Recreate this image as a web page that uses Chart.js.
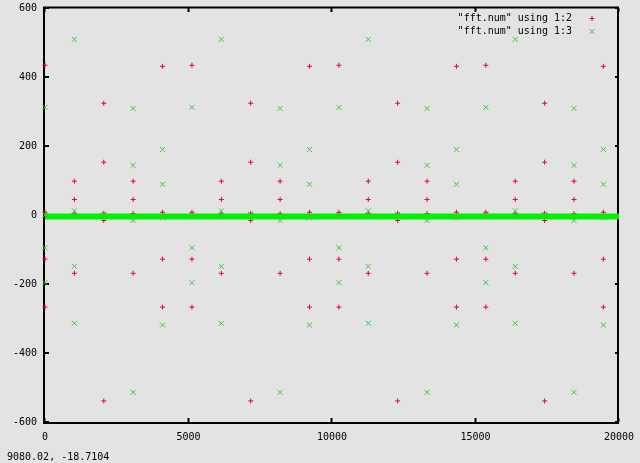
<!DOCTYPE html>
<html>
<head>
<meta charset="utf-8">
<script src="https://cdn.jsdelivr.net/npm/chart.js@4/dist/chart.umd.min.js"></script>
<style>
  html, body { margin: 0; padding: 0; background: #e3e3e3; overflow: hidden; }
  canvas { display: block; }
</style>
</head>
<body>
<canvas id="c" width="640" height="463"></canvas>
<script>
// ---- data ----
const seriesLabels = ['"fft.num" using 1:2', '"fft.num" using 1:3'];
const statusText = '9080.02, -18.7104';
const xTickStep = 5000;
const yTickStep = 200;

// column 2 (red +)
const redX = [
  0,0,0,0, 1024,1024,1024,1024, 2048,2048,2048,2048,2048, 3072,3072,3072,3072, 4096,4096,4096,4096,
  5120,5120,5120,5120, 6144,6144,6144,6144, 7168,7168,7168,7168,7168, 8192,8192,8192,8192, 9216,9216,9216,9216,
  10240,10240,10240,10240, 11264,11264,11264,11264, 12288,12288,12288,12288,12288, 13312,13312,13312,13312, 14336,14336,14336,14336,
  15360,15360,15360,15360, 16384,16384,16384,16384, 17408,17408,17408,17408,17408, 18432,18432,18432,18432, 19456,19456,19456,19456
];
const redY = [
  434,8,-128,-267, 98,45,4,-169, 324,153,5,-16,-539, 98,45,4,-169, 431,8,-128,-267,
  434,8,-128,-267, 98,45,4,-169, 324,153,5,-16,-539, 98,45,4,-169, 431,8,-128,-267,
  434,8,-128,-267, 98,45,4,-169, 324,153,5,-16,-539, 98,45,4,-169, 431,8,-128,-267,
  434,8,-128,-267, 98,45,4,-169, 324,153,5,-16,-539, 98,45,4,-169, 431,8,-128,-267
];

// column 3 (green x)
const greenX = [
  0,0,0,0, 1024,1024,1024,1024,1024, 2048, 3072,3072,3072,3072, 4096,4096,4096,4096,
  5120,5120,5120,5120, 6144,6144,6144,6144,6144, 7168, 8192,8192,8192,8192, 9216,9216,9216,9216,
  10240,10240,10240,10240, 11264,11264,11264,11264,11264, 12288, 13312,13312,13312,13312, 14336,14336,14336,14336,
  15360,15360,15360,15360, 16384,16384,16384,16384,16384, 17408, 18432,18432,18432,18432, 19456,19456,19456,19456
];
const greenY = [
  312,0,-95,-196, 509,12,-2,-149,-314, 2, 309,144,-16,-514, 190,89,-8,-319,
  312,0,-95,-196, 509,12,-2,-149,-314, 2, 309,144,-16,-514, 190,89,-8,-319,
  312,0,-95,-196, 509,12,-2,-149,-314, 2, 309,144,-16,-514, 190,89,-8,-319,
  312,0,-95,-196, 509,12,-2,-149,-314, 2, 309,144,-16,-514, 190,89,-8,-319
];

// dense near-zero floor of column 3 (drawn as a thick band)
const bandX = [0, 20000];
const bandY = [-4, -4];

// ---- styling ----
const RED = '#d80c2c';
const GREEN = '#3cc83c';
const BAND = '#00f000';
const BG = '#e3e3e3';
const FONT = { family: '"DejaVu Sans Mono", monospace', size: 10 };

const toPts = (xs, ys) => xs.map((x, i) => ({ x: x, y: ys[i] }));

const framePlugin = {
  id: 'frame',
  beforeDraw(chart) {
    const ctx = chart.ctx;
    ctx.save();
    ctx.fillStyle = BG;
    ctx.fillRect(0, 0, chart.width, chart.height);
    ctx.restore();
  },
  beforeDatasetsDraw(chart) {
    const ctx = chart.ctx;
    const a = chart.chartArea;
    const xs = chart.scales.x, ys = chart.scales.y;
    ctx.save();
    ctx.strokeStyle = '#000';
    ctx.lineWidth = 2;
    ctx.strokeRect(a.left - 1, a.top - 0.5, a.right - a.left, a.bottom - a.top + 1.5);
    const tl = 4;
    ctx.beginPath();
    xs.ticks.forEach(t => {
      const px = Math.round(xs.getPixelForValue(t.value)) - 0.5;
      ctx.moveTo(px, a.bottom); ctx.lineTo(px, a.bottom - tl);
      ctx.moveTo(px, a.top); ctx.lineTo(px, a.top + tl);
    });
    ys.ticks.forEach(t => {
      const py = Math.round(ys.getPixelForValue(t.value));
      ctx.moveTo(a.left, py); ctx.lineTo(a.left + tl, py);
      ctx.moveTo(a.right, py); ctx.lineTo(a.right - tl, py);
    });
    ctx.stroke();
    ctx.restore();
  },
  afterDraw(chart) {
    const ctx = chart.ctx;
    ctx.save();
    ctx.font = FONT.size + 'px ' + FONT.family;
    ctx.fillStyle = '#000';
    ctx.textBaseline = 'middle';
    // legend (gnuplot style, top right)
    const entries = [
      { ds: chart.data.datasets[2], y: 18.5 },
      { ds: chart.data.datasets[0], y: 31.5 }
    ];
    entries.forEach(e => {
      ctx.textAlign = 'right';
      ctx.fillStyle = '#000';
      ctx.fillText(e.ds.label, 572, e.y);
      ctx.strokeStyle = e.ds.borderColor;
      ctx.lineWidth = e.ds.borderWidth;
      Chart.helpers.drawPoint(ctx, {
        pointStyle: e.ds.pointStyle,
        radius: e.ds.pointRadius,
        borderWidth: e.ds.borderWidth,
        rotation: 0
      }, 592, e.y);
    });
    // status line
    ctx.textAlign = 'left';
    ctx.fillStyle = '#000';
    ctx.fillText(statusText, 7, 457);
    ctx.restore();
  }
};

const hiddenTickGrid = (len) => ({
  display: true, drawOnChartArea: false, drawTicks: true,
  tickLength: len, color: 'rgba(0,0,0,0)'
});

new Chart(document.getElementById('c'), {
  type: 'scatter',
  data: {
    datasets: [
      {
        label: seriesLabels[1],
        data: toPts(greenX, greenY),
        pointStyle: 'crossRot',
        pointRadius: 3.5,
        borderWidth: 1,
        borderColor: GREEN,
        backgroundColor: GREEN,
        clip: false,
        order: 1
      },
      {
        label: 'floor',
        type: 'line',
        data: toPts(bandX, bandY),
        borderColor: BAND,
        borderWidth: 6,
        pointRadius: 0,
        fill: false,
        order: 2
      },
      {
        label: seriesLabels[0],
        data: toPts(redX, redY),
        pointStyle: 'cross',
        pointRadius: 2.5,
        borderWidth: 1,
        borderColor: RED,
        backgroundColor: RED,
        clip: false,
        order: 3
      }
    ]
  },
  options: {
    responsive: false,
    animation: false,
    devicePixelRatio: 1,
    layout: { padding: { left: 0, right: 21, top: 8, bottom: 0 } },
    plugins: { legend: { display: false }, tooltip: { enabled: false } },
    scales: {
      x: {
        type: 'linear', min: 0, max: 20000,
        ticks: { stepSize: xTickStep, padding: 0, font: FONT, color: '#000', maxRotation: 0,
                 callback: v => String(v) },
        grid: hiddenTickGrid(9),
        border: { display: false },
        afterFit: s => { s.height = 41; }
      },
      y: {
        type: 'linear', min: -600, max: 600,
        ticks: { stepSize: yTickStep, padding: 0, font: FONT, color: '#000',
                 callback: v => String(v) },
        grid: hiddenTickGrid(8),
        border: { display: false },
        afterFit: s => { s.width = 45; }
      }
    }
  },
  plugins: [framePlugin]
});
</script>
</body>
</html>
